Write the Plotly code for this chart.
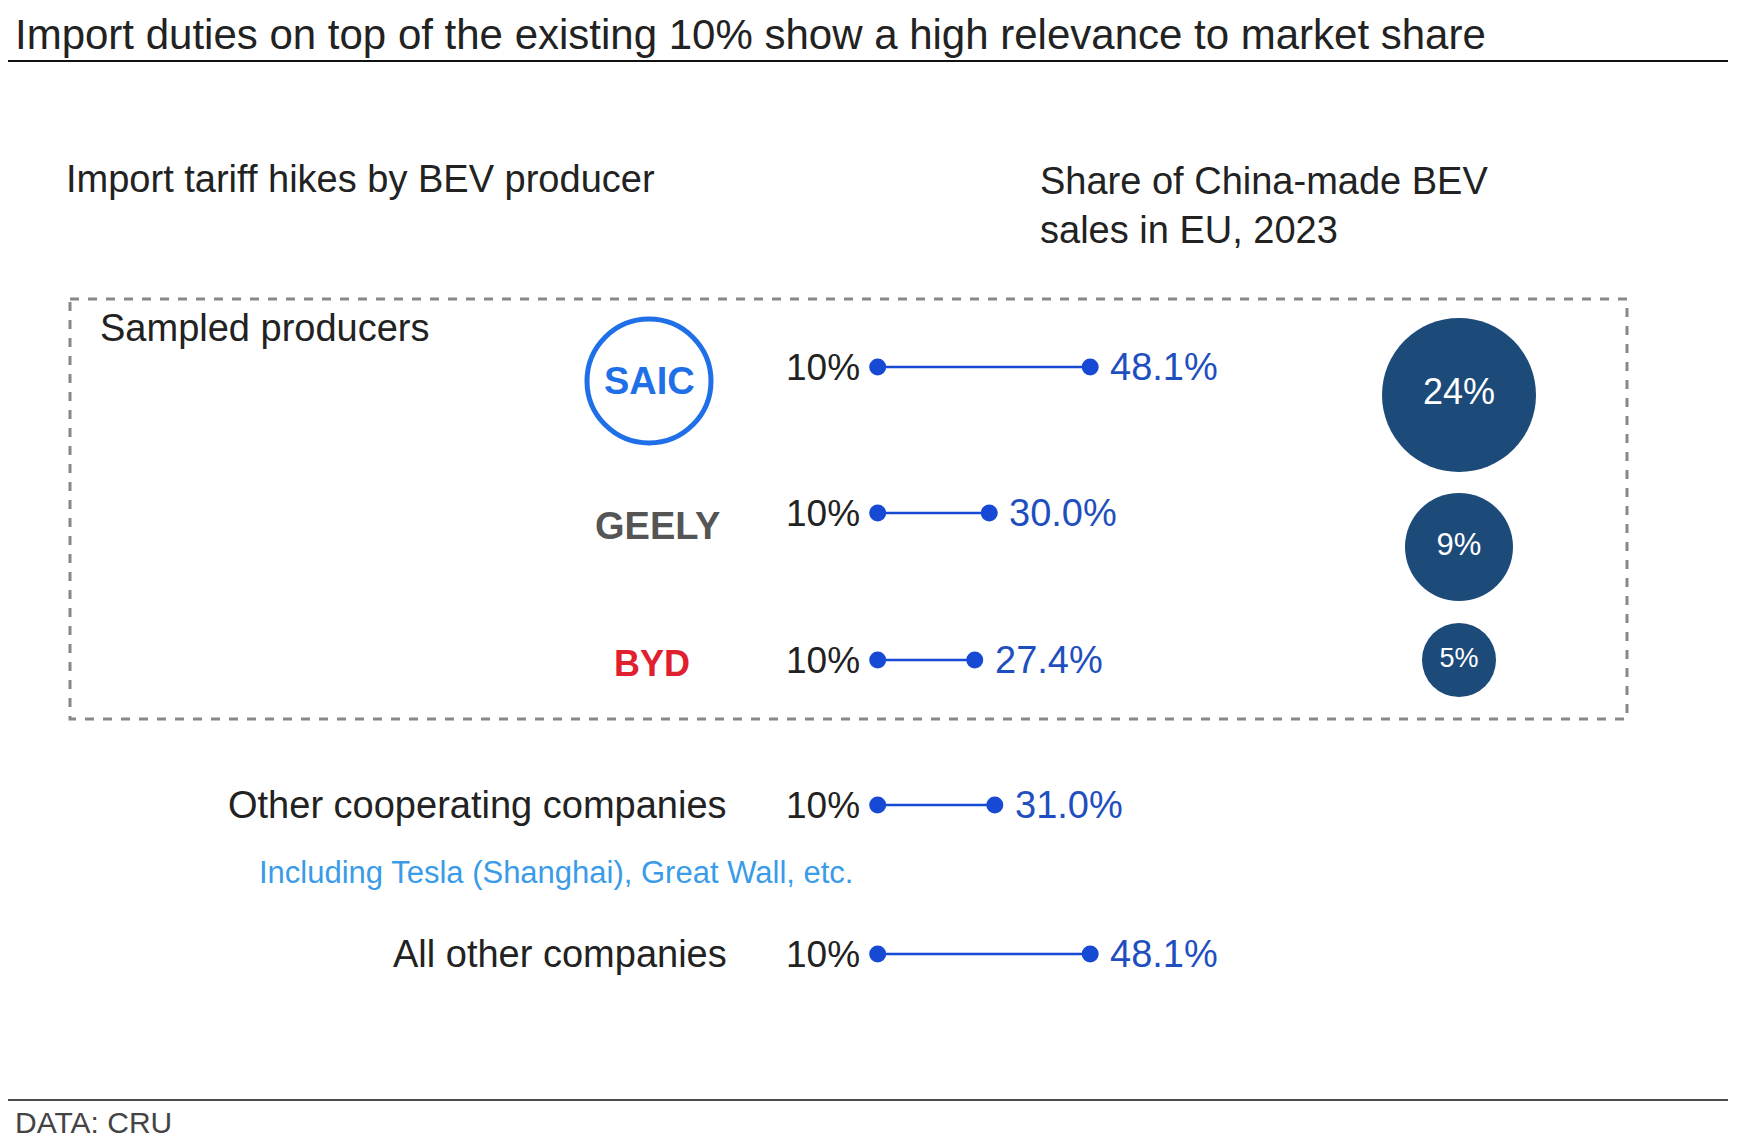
import plotly.graph_objects as go

rows = ["SAIC", "GEELY", "BYD", "Other cooperating companies", "All other companies"]
base_tariff = [10, 10, 10, 10, 10]
new_tariff = [48.1, 30.0, 27.4, 31.0, 48.1]
share_labels = ["24%", "9%", "5%"]
share_values = [24, 9, 5]

W, H = 1745, 1148
OFF = 8   # browser body margin
XOFF = 14
row_y = [367, 513, 660, 805, 954]
bubble_y = [395, 547, 660]
bubble_size = [154, 108, 74]
px_per_pct = 5.578
x0 = 827.9
BLUE = "#1649d4"
LBL = "#1f4fbf"
FONT = "Liberation Sans, Arial, sans-serif"

fig = go.Figure()
for i in range(len(rows)):
    fig.add_trace(go.Scatter(x=[base_tariff[i], new_tariff[i]], y=[row_y[i]] * 2,
                             mode="lines+markers", line=dict(color=BLUE, width=2.5),
                             marker=dict(size=17, color=BLUE, opacity=1), showlegend=False,
                             xaxis="x", yaxis="y", hoverinfo="skip"))
fig.add_trace(go.Scatter(x=[1465] * 3, y=bubble_y, mode="markers+text",
                         text=share_labels, textfont=dict(color="white", size=[36, 31, 27], family=FONT),
                         marker=dict(size=bubble_size, color="#1c4a79", opacity=1, line=dict(width=0)),
                         showlegend=False, xaxis="x2", yaxis="y", hoverinfo="skip",
                         customdata=share_values))

ann = []
def A(x, y, t, size=27, color="#222", xa="left", ya="middle", align="left"):
    ann.append(dict(x=x, y=y, xref="x2", yref="y", text=t, showarrow=False, align=align,
                    font=dict(size=size, color=color, family=FONT), xanchor=xa, yanchor=ya))

A(19, 34, "Import duties on top of the existing 10% show a high relevance to market share", 42)
A(70, 179, "Import tariff hikes by BEV producer", 38)
A(1044, 205, "Share of China-made BEV<br>sales in EU, 2023", 38)
A(104, 328, "Sampled producers", 38)
for i in range(len(rows)):
    A(868, row_y[i], f"{base_tariff[i]:.0f}%", 37, "#222", "right")
    A(x0 + new_tariff[i] * px_per_pct + 18, row_y[i], f"{new_tariff[i]:.1f}%", 38, LBL)
A(735, row_y[3], rows[3], 38, "#222", "right")
A(735, row_y[4], rows[4], 38, "#222", "right")
A(562, 872, "Including Tesla (Shanghai), Great Wall, etc.", 31, "#3a9be8", "center")
A(19, 1122, "DATA: CRU", 30, "#444")
A(655, 381, "<b>SAIC</b>", 38, "#1f6fe8", "center")
A(663, 526, "<b>GEELY</b>", 38, "#555", "center")
A(658, 663, "<b>BYD</b>", 36, "#e0202e", "center")

shapes = [
    dict(type="line", xref="x2", yref="y", x0=11, x1=1734, y0=61, y1=61, line=dict(color="#111", width=2)),
    dict(type="line", xref="x2", yref="y", x0=11, x1=1734, y0=1100, y1=1100, line=dict(color="#111", width=1.5)),
    dict(type="rect", xref="x2", yref="y", x0=76, x1=1633, y0=299, y1=719, line=dict(color="#888", width=3, dash="dash")),
    dict(type="circle", xref="x2", yref="y", x0=593, x1=717, y0=319, y1=443, line=dict(color="#1f6fe8", width=5)),
]

fig.update_layout(
    width=W, height=H, margin=dict(l=0, r=0, t=0, b=0),
    paper_bgcolor="white", plot_bgcolor="white",
    xaxis=dict(range=[-(x0 - XOFF) / px_per_pct, (W - (x0 - XOFF)) / px_per_pct], visible=False, domain=[0, 1]),
    xaxis2=dict(range=[XOFF, W + XOFF], visible=False, overlaying="x", domain=[0, 1]),
    yaxis=dict(range=[H + OFF, OFF], visible=False),
    annotations=ann, shapes=shapes,
)
fig.write_html("out.html")
